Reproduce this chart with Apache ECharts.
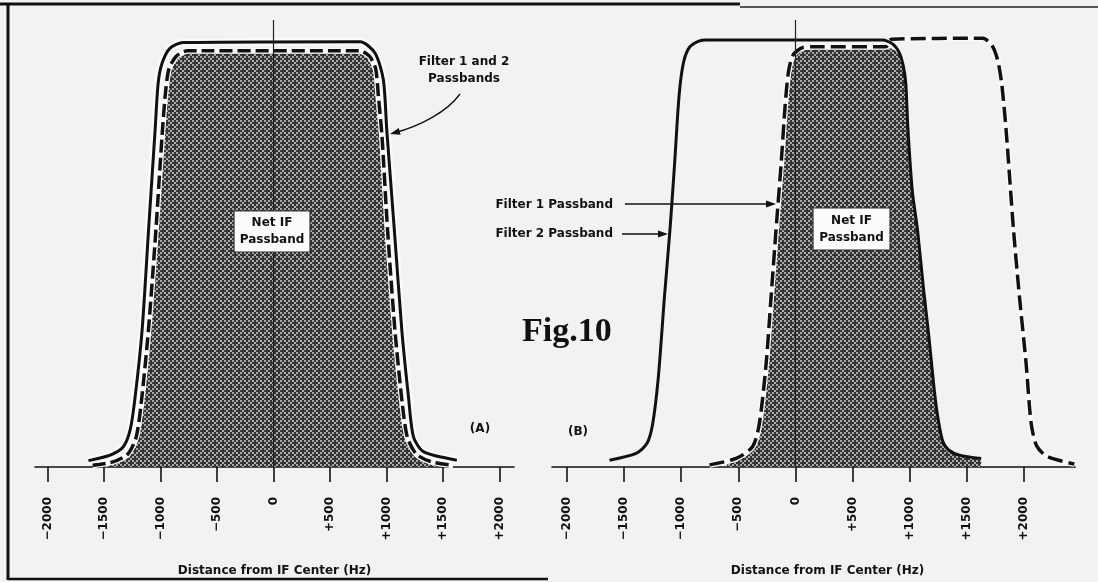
<!DOCTYPE html>
<html>
<head>
<meta charset="utf-8">
<style>
  html, body { margin: 0; padding: 0; background: #f2f2f0; }
  #container { width: 1098px; height: 582px; }
</style>
<script src="https://cdn.jsdelivr.net/npm/echarts@6/dist/echarts.min.js"></script>
</head>
<body>
<div id="container"></div>
<script>
// tick positions (Hz)
var tickVals = [-2000, -1500, -1000, -500, 0, 500, 1000, 1500, 2000];

// (A) both filters centred: outer solid trace and inner dashed trace [Hz, relative level]
var solidA = [
  [-1637, 1.5], [-1445, 2.8], [-1330, 4.7], [-1268, 8.7], [-1224, 16.4], [-1162, 32.2],
  [-1105, 55.7], [-1047, 79.2], [-1020, 90.2], [-985, 94.9], [-914, 98.4], [-799, 99.7],
  [767, 99.9], [900, 97.2], [973, 90.9], [1003, 79.2], [1070, 55.7], [1136, 32.2],
  [1195, 16.5], [1239, 7.1], [1327, 3.6], [1623, 1.6]
];
var dashedA = [
  [-1600, 0.4], [-1420, 1.2], [-1290, 3], [-1215, 7], [-1170, 15], [-1106, 32.2],
  [-1040, 55.7], [-985, 78], [-955, 88], [-925, 93.5], [-860, 96.5], [-760, 97.8],
  [760, 97.8], [850, 96.5], [905, 93.5], [929, 87], [960, 78], [1010, 55.7],
  [1075, 32.2], [1140, 15], [1185, 7], [1265, 3], [1400, 1.2], [1590, 0.4]
];

// (B) filter 2 (solid), filter 1 shifted up (dashed), and the net passband
var filter2B = [
  [-1627, 1.6], [-1394, 3.2], [-1300, 5.5], [-1250, 10], [-1200, 21], [-1146, 40],
  [-1098, 55.7], [-1057, 71.3], [-1030, 83], [-1008, 90], [-975, 95.5], [-927, 98.6],
  [-850, 100], [-781, 100.3],
  [761, 100.3], [850, 99.4], [910, 97.2], [945, 94], [966, 90], [983, 80],
  [1022, 65], [1068, 55.7], [1120, 42], [1170, 30], [1215, 18], [1250, 11],
  [1290, 6], [1340, 4], [1435, 2.8], [1625, 2]
];
var filter1B = [
  [-752, 0.5], [-519, 2], [-374, 4.8], [-315, 10.3], [-256, 24.4], [-213, 40],
  [-170, 55.7], [-125, 71.3], [-90, 85], [-60, 93], [-20, 96.8], [60, 98.5], [150, 98.7],
  [790, 98.7], [840, 100.5], [1639, 100.7], [1720, 99], [1770, 95.5], [1805, 90], [1843, 79.2],
  [1908, 55.7], [1960, 40], [2018, 24.4], [2062, 10.3], [2110, 5], [2200, 2.5], [2440, 0.7]
];
var netB = [
  [-600, 0.6], [-519, 1.8], [-374, 4.5], [-315, 10], [-256, 24], [-213, 40],
  [-170, 55.7], [-125, 71.3], [-90, 85], [-60, 93], [-20, 96.8], [60, 98.3], [150, 98.5],
  [780, 98.5], [850, 98.2], [910, 96.8], [945, 94], [966, 90], [983, 80],
  [1022, 65], [1068, 55.7], [1120, 42], [1170, 30], [1215, 18], [1250, 11],
  [1290, 6], [1340, 4], [1435, 2.8], [1625, 1.8]
];

// stipple texture for the shaded passband (ordered dither)
var pat = document.createElement('canvas');
pat.width = 8; pat.height = 8;
var pctx = pat.getContext('2d');
var bayer = [[0, 8, 2, 10], [12, 4, 14, 6], [3, 11, 1, 9], [15, 7, 13, 5]];
for (var j = 0; j < 4; j++) {
  for (var i = 0; i < 4; i++) {
    pctx.fillStyle = bayer[j][i] < 6 ? '#aaaaaa' : '#333333';
    pctx.fillRect(i * 2, j * 2, 2, 2);
  }
}
var stipple = { image: pat, repeat: 'repeat' };

var font = '"DejaVu Sans", sans-serif';
function fmt(v) {
  if (v > 0) return '+' + v;
  if (v < 0) return '\u2212' + (-v);
  return '0';
}
function xAx(idx, min, max, pad) {
  return {
    gridIndex: idx, type: 'value', min: min, max: max,
    axisLine: { show: true, onZero: false, lineStyle: { color: '#111', width: 1.6 } },
    axisTick: { show: true, customValues: tickVals, length: 15, lineStyle: { color: '#111', width: 1.6 } },
    axisLabel: { customValues: tickVals, rotate: 90, margin: 30, formatter: fmt,
      color: '#111', fontFamily: font, fontWeight: 'bold', fontSize: 12 },
    splitLine: { show: false },
    name: 'Distance from IF Center (Hz)', nameLocation: 'middle', nameGap: 98,
    nameTextStyle: { color: '#111', fontFamily: font, fontWeight: 'bold', fontSize: 12, padding: pad }
  };
}
function line(idx, data, color, width, type, z) {
  return {
    type: 'line', xAxisIndex: idx, yAxisIndex: idx, data: data, z: z || 2,
    symbol: 'none', smooth: 0.25, silent: true,
    lineStyle: { color: color, width: width, type: type || 'solid', cap: 'butt' }
  };
}
var centre = {
  silent: true, symbol: ['none', 'none'], label: { show: false },
  lineStyle: { color: '#222', width: 1.2, type: 'solid' }, data: [{ xAxis: 0 }]
};

var fillA = line(0, dashedA, '#000', 0, 'solid', 1);
fillA.areaStyle = { color: stipple, opacity: 1 };
var fillB = line(1, netB, '#000', 0, 'solid', 1);
fillB.areaStyle = { color: stipple, opacity: 1 };

var solidLineA = line(0, solidA, '#111', 3);
solidLineA.markLine = centre;
var solidLineB = line(1, filter2B, '#111', 3);
solidLineB.markLine = centre;

var myChart = echarts.init(document.getElementById('container'));
var option = {
  backgroundColor: '#f2f2f0',
  animation: false,
  grid: [
    { left: 35, top: 20, width: 479, height: 447 },
    { left: 552, top: 20, width: 523, height: 447 }
  ],
  xAxis: [xAx(0, -2110, 2129, [0, 0, 0, 0]), xAx(1, -2130, 2446, [0, 0, 0, 28])],
  yAxis: [
    { gridIndex: 0, type: 'value', min: 0, max: 105, show: false },
    { gridIndex: 1, type: 'value', min: 0, max: 105, show: false }
  ],
  series: [
    fillA,
    line(0, solidA, '#fafafa', 8),
    line(0, dashedA, '#fafafa', 6),
    solidLineA,
    line(0, dashedA, '#111', 3.5, [13, 5]),
    fillB,
    line(1, filter1B, '#fafafa', 6),
    solidLineB,
    line(1, filter1B, '#111', 3.5, [15, 6])
  ],
  graphic: [
    // frame
    { type: 'line', z: 100, shape: { x1: 0, y1: 4, x2: 740, y2: 4 }, style: { stroke: '#111', lineWidth: 3 } },
    { type: 'line', z: 100, shape: { x1: 740, y1: 7, x2: 1098, y2: 7 }, style: { stroke: '#222', lineWidth: 1.5 } },
    { type: 'line', z: 100, shape: { x1: 8, y1: 4, x2: 8, y2: 580 }, style: { stroke: '#111', lineWidth: 3 } },
    { type: 'line', z: 100, shape: { x1: 8, y1: 579, x2: 548, y2: 579 }, style: { stroke: '#111', lineWidth: 2.5 } },
    // panel A annotations
    { type: 'text', z: 100, x: 464, y: 70, style: { text: 'Filter 1 and 2\nPassbands', fill: '#111',
      font: 'bold 12px ' + font, align: 'center', verticalAlign: 'middle', lineHeight: 17 } },
    { type: 'bezierCurve', z: 100, shape: { x1: 460, y1: 94, x2: 394, y2: 133, cpx1: 447, cpy1: 112, cpx2: 420, cpy2: 126 },
      style: { stroke: '#111', lineWidth: 1.3, fill: null } },
    { type: 'polygon', z: 100, shape: { points: [[390, 134], [398.8, 128], [400.6, 134.8]] }, style: { fill: '#111' } },
    { type: 'rect', z: 100, shape: { x: 234, y: 211, width: 76, height: 41 }, style: { fill: '#fbfbfb', stroke: '#333', lineWidth: 1.2 } },
    { type: 'text', z: 101, x: 272, y: 231.5, style: { text: 'Net IF\nPassband', fill: '#111',
      font: 'bold 12px ' + font, align: 'center', verticalAlign: 'middle', lineHeight: 17 } },
    { type: 'text', z: 100, x: 480, y: 429, style: { text: '(A)', fill: '#111',
      font: 'bold 12px ' + font, align: 'center', verticalAlign: 'middle' } },
    // figure title
    { type: 'text', z: 100, x: 522, y: 332, style: { text: 'Fig.10', fill: '#111',
      font: 'bold 34px "Liberation Serif", serif', align: 'left', verticalAlign: 'middle' } },
    // panel B annotations
    { type: 'text', z: 100, x: 613, y: 205, style: { text: 'Filter 1 Passband', fill: '#111',
      font: 'bold 12px ' + font, align: 'right', verticalAlign: 'middle' } },
    { type: 'line', z: 100, shape: { x1: 625, y1: 204, x2: 768, y2: 204 }, style: { stroke: '#111', lineWidth: 1.3 } },
    { type: 'polygon', z: 100, shape: { points: [[776, 204], [766, 200.5], [766, 207.5]] }, style: { fill: '#111' } },
    { type: 'text', z: 100, x: 613, y: 234, style: { text: 'Filter 2 Passband', fill: '#111',
      font: 'bold 12px ' + font, align: 'right', verticalAlign: 'middle' } },
    { type: 'line', z: 100, shape: { x1: 622, y1: 234, x2: 660, y2: 234 }, style: { stroke: '#111', lineWidth: 1.3 } },
    { type: 'polygon', z: 100, shape: { points: [[668, 234], [658, 230.5], [658, 237.5]] }, style: { fill: '#111' } },
    { type: 'rect', z: 100, shape: { x: 813, y: 208, width: 77, height: 42 }, style: { fill: '#fbfbfb', stroke: '#333', lineWidth: 1.2 } },
    { type: 'text', z: 101, x: 851.5, y: 229, style: { text: 'Net IF\nPassband', fill: '#111',
      font: 'bold 12px ' + font, align: 'center', verticalAlign: 'middle', lineHeight: 17 } },
    { type: 'text', z: 100, x: 578, y: 432, style: { text: '(B)', fill: '#111',
      font: 'bold 12px ' + font, align: 'center', verticalAlign: 'middle' } }
  ]
};
myChart.setOption(option, true);
</script>
</body>
</html>
